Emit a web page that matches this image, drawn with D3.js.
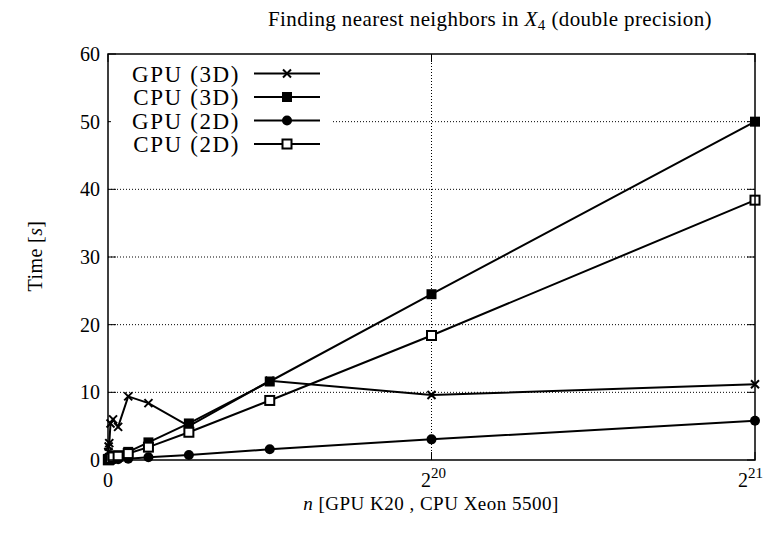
<!DOCTYPE html>
<html><head><meta charset="utf-8">
<script src="https://cdn.jsdelivr.net/npm/d3@7"></script>
<style>
html,body{margin:0;padding:0;background:#fff;}
text{font-family:"Liberation Serif","DejaVu Serif",serif;fill:#000;}
</style></head>
<body><svg id="c" width="771" height="537"></svg>
<script>
const exponents = [10,11,12,13,14,15,16,17,18,19,20,21];
const gpu3d = [1.2, 2.0, 2.5, 5.4, 6.0, 4.9, 9.4, 8.4, 5.0, 11.7, 9.6, 11.2];
const cpu3d = [0.04, 0.08, 0.15, 0.3, 0.6, 0.7, 1.2, 2.6, 5.4, 11.6, 24.5, 50.0];
const gpu2d = [0.01, 0.02, 0.03, 0.05, 0.08, 0.12, 0.2, 0.4, 0.74, 1.58, 3.05, 5.8];
const cpu2d = [0.03, 0.06, 0.12, 0.25, 0.45, 0.55, 0.95, 1.9, 4.1, 8.8, 18.4, 38.4];
const seriesNames = ["GPU (3D)", "CPU (3D)", "GPU (2D)", "CPU (2D)"];
const seriesMarkers = ["cross", "filledSquare", "circle", "openSquare"];
const yTicks = [0,10,20,30,40,50,60];
const xTickExps = [0,20,21];

const svg = d3.select("#c");
const L=108, R=755, T=54, B=460;
const x = d3.scaleLinear().domain([0, Math.pow(2,21)]).range([L,R]);
const y = d3.scaleLinear().domain([0,60]).range([B,T]);

// grid
const g = svg.append("g");
yTicks.filter(v=>v>0 && v<60).forEach(v=>{
  g.append("line").attr("x1",L).attr("x2",R).attr("y1",y(v)).attr("y2",y(v))
   .attr("stroke","#000").attr("stroke-width",1).attr("stroke-dasharray","1,2");
});
g.append("line").attr("x1",x(Math.pow(2,20))).attr("x2",x(Math.pow(2,20))).attr("y1",T).attr("y2",B)
 .attr("stroke","#000").attr("stroke-width",1).attr("stroke-dasharray","1,2");

// axes with inward mirrored ticks
const tickLen = 8;
const axisG = svg.append("g");
yTicks.forEach(v=>{
  axisG.append("line").attr("x1",L).attr("x2",L+tickLen).attr("y1",y(v)).attr("y2",y(v)).attr("stroke","#000");
  axisG.append("line").attr("x1",R).attr("x2",R-tickLen).attr("y1",y(v)).attr("y2",y(v)).attr("stroke","#000");
  axisG.append("text").attr("x",L-8).attr("y",y(v)+7).attr("text-anchor","end")
    .style("font-size","20px").text(v);
});
xTickExps.forEach((e,i)=>{
  const v = e===0?0:Math.pow(2,e);
  axisG.append("line").attr("x1",x(v)).attr("x2",x(v)).attr("y1",B).attr("y2",B-tickLen).attr("stroke","#000");
  axisG.append("line").attr("x1",x(v)).attr("x2",x(v)).attr("y1",T).attr("y2",T+tickLen).attr("stroke","#000");
  const last = i===xTickExps.length-1;
  const t = axisG.append("text").attr("x",last? 763 : x(v)+ (e===0?0:2)).attr("y",B+27)
     .attr("text-anchor",last?"end":"middle").style("font-size","20px");
  if(e===0){ t.text("0"); }
  else { t.append("tspan").text("2"); t.append("tspan").attr("dy",-9).style("font-size","15px").text(e); }
});

// series
const data = [gpu3d, cpu3d, gpu2d, cpu2d];
const line = d3.line().x(d=>x(Math.pow(2,d[0]))).y(d=>y(d[1]));
function drawMarker(sel, type, cx, cy){
  if(type==="cross"){
    const s=4;
    sel.append("path").attr("d",`M${cx-s},${cy-s}L${cx+s},${cy+s}M${cx-s},${cy+s}L${cx+s},${cy-s}`)
      .attr("stroke","#000").attr("stroke-width",2).attr("fill","none");
  } else if(type==="filledSquare"){
    sel.append("rect").attr("x",cx-5).attr("y",cy-5).attr("width",10).attr("height",10).attr("fill","#000");
  } else if(type==="circle"){
    sel.append("circle").attr("cx",cx).attr("cy",cy).attr("r",5).attr("fill","#000");
  } else {
    sel.append("rect").attr("x",cx-4.5).attr("y",cy-4.5).attr("width",9).attr("height",9)
      .attr("fill","#fff").attr("stroke","#000").attr("stroke-width",2);
  }
}
const sg = svg.append("g");
data.forEach((vals,i)=>{
  const pts = exponents.map((e,j)=>[e, vals[j]]);
  sg.append("path").attr("d",line(pts)).attr("fill","none").attr("stroke","#000").attr("stroke-width",2);
});
data.forEach((vals,i)=>{
  exponents.forEach((e,j)=>drawMarker(sg, seriesMarkers[i], x(Math.pow(2,e)), y(vals[j])));
});

// frame
svg.append("rect").attr("x",L).attr("y",T).attr("width",R-L).attr("height",B-T)
  .attr("fill","none").attr("stroke","#000").attr("stroke-width",1.5);

// legend
const lg = svg.append("g");
lg.append("rect").attr("x",111).attr("y",58).attr("width",221).attr("height",98).attr("fill","#fff");
seriesNames.forEach((n,i)=>{
  const cy = 73.5 + i*23.5;
  lg.append("text").attr("x",240).attr("y",cy+8).attr("text-anchor","end")
    .style("font-size","23px").style("letter-spacing","1.6px").text(n);
  lg.append("line").attr("x1",254).attr("x2",320).attr("y1",cy).attr("y2",cy).attr("stroke","#000").attr("stroke-width",2);
  drawMarker(lg, seriesMarkers[i], 287, cy);
});

// title
const title = svg.append("text").attr("x",490).attr("y",26).attr("text-anchor","middle")
  .style("font-size","21px").style("letter-spacing","0.4px");
title.append("tspan").text("Finding nearest neighbors in ");
title.append("tspan").style("font-style","italic").text("X");
title.append("tspan").attr("dy",4).style("font-size","15px").text("4");
title.append("tspan").attr("dy",-4).text(" (double precision)");

// axis labels
const yl = svg.append("text").attr("transform","translate(42,256) rotate(-90)").attr("text-anchor","middle")
  .style("font-size","20px").style("letter-spacing","0.4px");
yl.append("tspan").text("Time [");
yl.append("tspan").style("font-style","italic").text("s");
yl.append("tspan").text("]");
const xl = svg.append("text").attr("x",431).attr("y",510).attr("text-anchor","middle")
  .style("font-size","19px").style("letter-spacing","0.5px");
xl.append("tspan").style("font-style","italic").text("n");
xl.append("tspan").text(" [GPU K20 , CPU Xeon 5500]");
</script></body></html>
